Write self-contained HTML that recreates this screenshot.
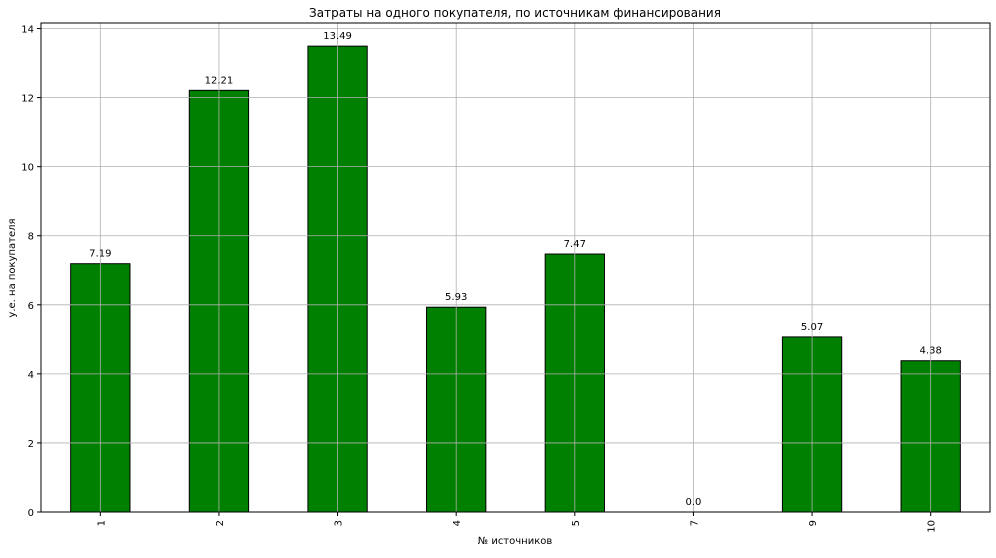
<!DOCTYPE html>
<html><head><meta charset="utf-8">
<style>
body{margin:0;background:#fff;font-family:"Liberation Sans","DejaVu Sans",sans-serif;}
svg text{font-family:"DejaVu Sans","Liberation Sans",sans-serif;}
</style></head>
<body>
<svg id="chart" width="996" height="553" xmlns="http://www.w3.org/2000/svg">
<rect width="996" height="553" fill="#fff"/>
<text x="515" y="17" text-anchor="middle" font-size="12">Затраты на одного покупателя, по источникам финансирования</text>
<text x="515" y="544" text-anchor="middle" font-size="10">№ источников</text>
<text transform="translate(15,268) rotate(-90)" text-anchor="middle" font-size="10">у.е. на покупателя</text>
<g id="grid"></g><g id="bars"></g><g id="gridtop"></g><g id="labels"></g><g id="ticks"></g>
<rect x="41" y="23" width="949" height="489" fill="none" stroke="#000" stroke-width="1"/>
</svg>
<script>
const categories = ["1","2","3","4","5","7","9","10"];
const values = [7.19,12.21,13.49,5.93,7.47,0.0,5.07,4.38];
const valueLabels = ["7.19","12.21","13.49","5.93","7.47","0.0","5.07","4.38"];
const yTicks = [0,2,4,6,8,10,12,14];

const L=41,R=990,T=23,B=512,yMax=14.16;
const NS="http://www.w3.org/2000/svg";
const step=(R-L)/categories.length;
const xScale=i=>L+step*(i+0.5);
const yScale=v=>B-(v/yMax)*(B-T);
function mk(tag,attrs,parent){const e=document.createElementNS(NS,tag);for(const k in attrs)e.setAttribute(k,attrs[k]);document.getElementById(parent).appendChild(e);return e;}

yTicks.forEach(t=>{
  const y=yScale(t);
  const g=mk('line',{x1:L,x2:R,y1:y,y2:y,stroke:'#b0b0b0','stroke-width':0.8},'gridtop');
  
  
  mk('line',{x1:L-4,x2:L,y1:y,y2:y,stroke:'#000'},'ticks');
  const tx=mk('text',{x:L-7,y:y+4,'text-anchor':'end','font-size':10},'ticks');
  tx.textContent=t;
  
  
});
categories.forEach((c,i)=>{
  const x=xScale(i),w=step*0.5,y=yScale(values[i]);
  const b=mk('rect',{x:x-w/2,y:y,width:w,height:B-y,fill:'#008000',stroke:'#000','stroke-width':1},'bars');
  
  
  const g=mk('line',{x1:x,x2:x,y1:T,y2:B,stroke:'#b0b0b0','stroke-width':0.8},'gridtop');
  
  
  const lb=mk('text',{x:x,y:y-7,'text-anchor':'middle','font-size':10},'labels');
  lb.textContent=valueLabels[i];
  
  
  mk('line',{x1:x,x2:x,y1:B,y2:B+4,stroke:'#000'},'ticks');
  const tx=mk('text',{transform:`translate(${x+4},${B+8}) rotate(-90)`,'text-anchor':'end','font-size':10},'ticks');
  tx.textContent=c;
  
  
});
</script>
</body></html>
